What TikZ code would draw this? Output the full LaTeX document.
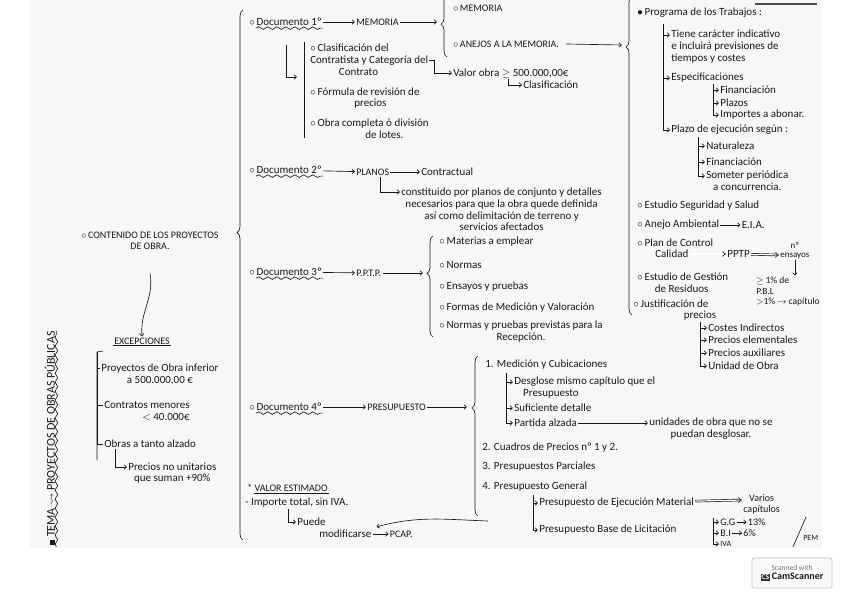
\documentclass[tikz,border=0pt]{standalone}
\usepackage{fontspec}
\setmainfont{Carlito}
\usepackage{amssymb}
\usetikzlibrary{positioning,arrows.meta,calc,decorations.pathreplacing,decorations.pathmorphing}
\newcommand{\obul}{\ensuremath{\circ}\,}
\newcommand{\fbul}{\ensuremath{\bullet}\,}

\begin{document}
\begin{tikzpicture}[x=1pt, y=-1pt, font=\fontsize{11}{11.8}\selectfont, line width=0.65pt, black!90,
  txt/.style={anchor=west, inner sep=1pt, align=left, text=black!90},
  ctr/.style={txt, align=center},
  caps/.style={txt, font=\fontsize{10}{11.5}\selectfont},
  link/.style={-{Straight Barb[length=2.5pt,width=4.5pt]}},
  dlink/.style={double, double distance=1.2pt, -{Implies}},
  brc/.style={decorate, decoration={brace, amplitude=6pt, aspect=#1}},
  brc/.default=0.5,
  wavy/.style={decorate, decoration={snake, amplitude=1.3pt, segment length=9pt}}]
  \useasboundingbox (0,0) rectangle (848,599);
  % paper
  \fill[black!3] (30,0) rectangle (822,548);
  \draw[black!70, line width=1.4pt] (755,4) -- (817,4);
  % title and left column
  \node[caps, rotate=90, font=\fontsize{12}{13}\selectfont] (title) at (50,546) {\rule{5pt}{5pt}\ TEMA $\rightsquigarrow$ PROYECTOS DE OBRAS PÚBLICAS};
  \draw[wavy] ([yshift=-1pt]title.south west) -- ([yshift=-1pt]title.south east);
  \node[caps, ctr, anchor=center] (contenido) at (150,241) {\obul CONTENIDO DE LOS PROYECTOS\\DE OBRA.};
  \node[caps, anchor=center] (excep) at (142,341) {EXCEPCIONES};
  \draw (excep.south west) -- (excep.south east);
  \draw[link] ([yshift=-22pt]contenido.south) to[out=-80, in=95] (excep.north);
  \node[ctr] (exc1) at (100,374) {Proyectos de Obra inferior\\a 500.000,00 €};
  \node[txt, align=right] (exc2) at (103,411) {Contratos menores\\$<$ 40.000€};
  \node[txt] (exc3) at (103,444) {Obras a tanto alzado};
  \node[ctr] (precios) at (127,473) {Precios no unitarios\\que suman +90\%};
  \coordinate (extop) at (97,352);
  \draw (103,351) -- (extop) -- (97,460);
  \draw (extop) |- ([yshift=6pt]exc1.west);
  \draw (extop) |- ([yshift=6pt]exc2.west);
  \draw (extop) |- (exc3.west);
  \draw[link] ([xshift=12pt]exc3.south west) |- ([yshift=6pt]precios.west);
  % main brace
  \draw[brc=0.58] (243,540) -- (243,10);
  % documento 1
  \node[txt] (doc1) at (248,22) {\obul Documento 1º};
  \draw[wavy] ([xshift=8pt,yshift=-1pt]doc1.south west) -- ([yshift=-1pt]doc1.south east);
  \node[caps] (memoria) at (355,22) {MEMORIA};
  \coordinate (memtip) at (437,22);
  \draw[link] (doc1) -- (memoria);
  \draw[link] (memoria) -- (memtip);
  \draw[brc=0.52] (447,57) -- (447,-6);
  \node[caps] (mem1) at (452,8) {\obul MEMORIA};
  \node[caps] (anejos) at (452,44) {\obul ANEJOS A LA MEMORIA.};
  \coordinate (rtip) at (622,45);
  \draw[link] ([xshift=6pt]anejos.east) -- (rtip);
  \coordinate (d1top) at (304,42);
  \draw (d1top) -- (304,138);
  \draw[link] (286,45) |- (297,77);
  \node[txt] (clasif) at (309,60) {\obul Clasificación del\\Contratista y Categoría del\\\hspace*{2.6em}Contrato};
  \node[txt] (formula) at (309,98) {\obul Fórmula de revisión de\\\hspace*{4em}precios};
  \node[txt] (obra) at (309,129) {\obul Obra completa ó división\\\hspace*{5em}de lotes.};
  \node[txt] (valor) at (452,73) {Valor obra $\geq$ 500.000,00€};
  \node[txt] (clasifb) at (522,85) {Clasificación};
  \draw[link] (clasif.east) -- ++(5,0) |- (valor.west);
  \draw[link] ([xshift=56pt]valor.south west) |- (clasifb.west);
  % documento 2
  \node[txt] (doc2) at (248,170) {\obul Documento 2º};
  \draw[wavy] ([xshift=8pt,yshift=-1pt]doc2.south west) -- ([yshift=-1pt]doc2.south east);
  \node[caps] (planos) at (355,172) {PLANOS};
  \node[txt] (contract) at (420,172) {Contractual};
  \draw[link] (doc2) -- (planos);
  \draw[link] (planos) -- (contract);
  \node[ctr] (constit) at (400,209.5) {constituido por planos de conjunto y detalles\\necesarios para que la obra quede definida\\así como delimitación de terreno y\\servicios afectados};
  \draw[link] ([xshift=8pt]planos.south) |- ([yshift=17.5pt]constit.west);
  % documento 3
  \node[txt] (doc3) at (248,272) {\obul Documento 3º};
  \draw[wavy] ([xshift=8pt,yshift=-1pt]doc3.south west) -- ([yshift=-1pt]doc3.south east);
  \node[caps] (pptp) at (355,273) {P.P.T.P.};
  \coordinate (p3tip) at (423,273);
  \draw[link] (doc3) -- (pptp);
  \draw[link] (pptp) -- (p3tip);
  \draw[brc=0.63] (433,337) -- (433,236);
  \node[txt] (mat) at (438,242) {\obul Materias a emplear};
  \node[txt] (normas) at (438,265) {\obul Normas};
  \node[txt] (ensayos) at (438,287) {\obul Ensayos y pruebas};
  \node[txt] (formas) at (438,308) {\obul Formas de Medición y Valoración};
  \node[ctr] (recep) at (438,331.5) {\obul Normas y pruebas previstas para la\\Recepción.};
  % documento 4
  \node[txt] (doc4) at (248,407) {\obul Documento 4º};
  \draw[wavy] ([xshift=8pt,yshift=-1pt]doc4.south west) -- ([yshift=-1pt]doc4.south east);
  \node[caps] (presup) at (366,407) {PRESUPUESTO};
  \coordinate (p4tip) at (467,407);
  \draw[link] (doc4) -- (presup);
  \draw[link] (presup) -- (p4tip);
  \draw[brc=0.675] (478,516) -- (478,356);
  \node[txt] (med) at (484,365) {1. Medición y Cubicaciones};
  \coordinate (medtop) at (506,373);
  \node[txt] (desglose) at (513,387.5) {Desglose mismo capítulo que el\\\hspace*{0.8em}Presupuesto};
  \node[txt] (sufic) at (513,408) {Suficiente detalle};
  \node[txt] (partida) at (513,423) {Partida alzada};
  \node[ctr] (unidades) at (648,428.5) {unidades de obra que no se\\puedan desglosar.};
  \draw[link] (medtop) |- ([yshift=5.5pt]desglose.west);
  \draw[link] (medtop) |- (sufic.west);
  \draw[link] (medtop) |- (partida.west);
  \draw[link] (partida) -- ([yshift=5.5pt]unidades.west);
  \node[txt] (cuadros) at (481,448) {2. Cuadros de Precios nº 1 y 2.};
  \node[txt] (parciales) at (481,467) {3. Presupuestos Parciales};
  \node[txt] (general) at (481,487) {4. Presupuesto General};
  \coordinate (gentop) at (533,495);
  \node[txt] (pem) at (538,503) {Presupuesto de Ejecución Material};
  \node[ctr, font=\fontsize{10}{10.5}\selectfont] (varios) at (742,504.5) {Varios\\capítulos};
  \node[txt] (pbl) at (538,530) {Presupuesto Base de Licitación};
  \draw[link] (gentop) |- (pem.west);
  \draw[link] (gentop) |- (pbl.west);
  \draw[dlink] (pem) -- ([yshift=4.5pt]varios.west);
  \coordinate (pbtop) at (713,518);
  \node[txt, font=\fontsize{10}{11}\selectfont] (gg) at (719,522) {G.G};
  \node[txt, font=\fontsize{10}{11}\selectfont] (bi) at (719,533) {B.I};
  \node[txt, font=\fontsize{8}{9}\selectfont] (iva) at (719,544) {IVA};
  \node[txt, font=\fontsize{10}{11}\selectfont, right=10pt of gg] (ggv) {13\%};
  \node[txt, font=\fontsize{10}{11}\selectfont, right=10pt of bi] (biv) {6\%};
  \draw[link] (pbtop) |- (gg.west);
  \draw[link] (pbtop) |- (bi.west);
  \draw[link] (pbtop) |- (iva.west);
  \draw[link] (gg) -- (ggv);
  \draw[link] (bi) -- (biv);
  \draw (806,517) -- (793,547);
  \node[txt, font=\fontsize{8}{9}\selectfont] (pemlab) at (802,538) {PEM};
  % valor estimado
  \node[caps] (valest) at (246,488) {* VALOR ESTIMADO};
  \draw ([xshift=8pt]valest.south west) -- (valest.south east);
  \node[txt] (importe) at (244,503) {- Importe total, sin IVA.};
  \node[txt] (puede) at (296,522) {Puede};
  \node[txt] (modif) at (318,534) {modificarse};
  \node[caps, right=16pt of modif] (pcap) {PCAP.};
  \draw[link] ([xshift=44pt]importe.south west) |- (puede.west);
  \draw[link] (modif) -- (pcap);
  \coordinate (crv) at (488,521);
  \draw[link] (crv) to[out=178, in=15] ([xshift=4pt,yshift=2pt]modif.north east);
  % right column
  \draw[brc=0.84] (632,315) -- (632,-4);
  \node[txt] (programa) at (636,13) {\fbul Programa de los Trabajos :};
  \coordinate (prtop) at (663,24);
  \node[txt] (tiene) at (670,46.5) {Tiene carácter indicativo\\e incluirá previsiones de\\tiempos y costes};
  \node[txt] (espec) at (670,78) {Especificaciones};
  \node[txt] (plazo) at (670,130) {Plazo de ejecución según :};
  \draw[link] (prtop) |- ([yshift=11.5pt]tiene.west);
  \draw[link] (prtop) |- (espec.west);
  \draw[link] (prtop) |- (plazo.west);
  \coordinate (sptop) at (713,84);
  \node[txt] (financ) at (719,90) {Financiación};
  \node[txt] (plazos) at (719,103) {Plazos};
  \node[txt] (importes) at (719,115) {Importes a abonar.};
  \draw[link] (sptop) |- (financ.west);
  \draw[link] (sptop) |- (plazos.west);
  \draw[link] (sptop) |- (importes.west);
  \coordinate (pltop) at (698,137);
  \node[txt] (natur) at (705,146) {Naturaleza};
  \node[txt] (financb) at (705,162) {Financiación};
  \node[ctr] (someter) at (705,181) {Someter periódica\\a concurrencia.};
  \draw[link] (pltop) |- (natur.west);
  \draw[link] (pltop) |- (financb.west);
  \draw[link] (pltop) |- ([yshift=5pt]someter.west);
  \node[txt] (seg) at (636,206) {\obul Estudio Seguridad y Salud};
  \node[txt] (anejo) at (636,225) {\obul Anejo Ambiental};
  \node[txt, right=20pt of anejo] (eia) {E.I.A.};
  \draw[link] (anejo) -- (eia);
  \node[txt] (plan) at (636,243) {\obul Plan de Control};
  \node[txt] (calidad) at (654,254) {Calidad};
  \node[txt] (pptpb) at (726,254) {PPTP};
  \node[ctr, font=\fontsize{9}{9.5}\selectfont] (ensb) at (779,250.5) {nº\\ensayos};
  \draw[dlink] (calidad) -- (pptpb);
  \draw[dlink] (pptpb) -- ([yshift=-4.5pt]ensb.west);
  \node[txt, font=\fontsize{9.5}{10.5}\selectfont] (pct) at (755,291.5) {$\geq$ 1\% de\\P.B.L\\$>$1\% $\rightarrow$ capítulo};
  \draw[link] (ensb.south) -- (ensb.south |- pct.north);
  \node[txt] (res) at (636,282.5) {\obul Estudio de Gestión\\\hspace*{1.6em}de Residuos};
  \node[txt] (justif) at (632,310) {\obul Justificación de\\\hspace*{4.6em}precios};
  \coordinate (jutop) at (700,322);
  \node[txt] (costes) at (707,328) {Costes Indirectos};
  \node[txt] (pelem) at (707,340) {Precios elementales};
  \node[txt] (paux) at (707,353) {Precios auxiliares};
  \node[txt] (unidad) at (707,366) {Unidad de Obra};
  \draw[link] (jutop) |- (costes.west);
  \draw[link] (jutop) |- (pelem.west);
  \draw[link] (jutop) |- (paux.west);
  \draw[link] (jutop) |- (unidad.west);
  % scanner mark
  \node[draw=black!25, fill=black!2, rounded corners=2pt, align=center, minimum width=80pt, minimum height=30pt, inner sep=2pt, font=\fontsize{7.5}{9}\selectfont] (logo) at (792,573)
    {\textcolor{black!55}{Scanned with}\\{\setlength\fboxsep{1pt}\colorbox{black!80}{\textcolor{white}{\textbf{CS}}}}\ \textbf{\fontsize{10}{11}\selectfont CamScanner}};
\end{tikzpicture}
\end{document}
